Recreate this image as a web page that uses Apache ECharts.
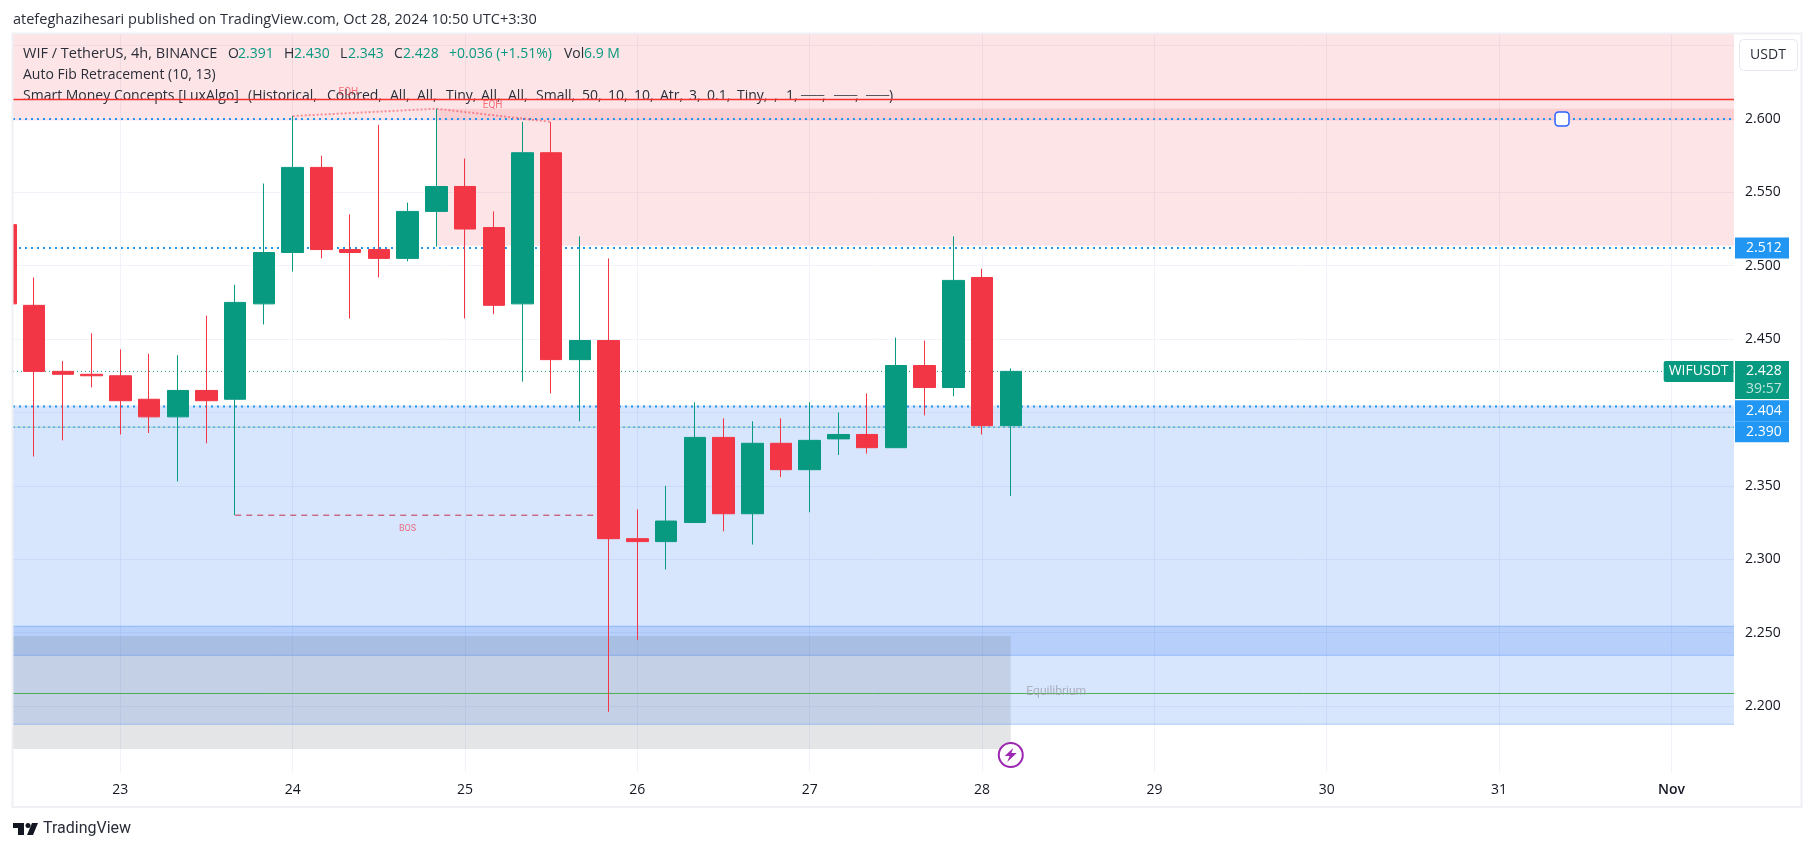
<!DOCTYPE html>
<html>
<head>
<meta charset="utf-8">
<title>WIF / TetherUS, 4h</title>
<script src="https://cdn.jsdelivr.net/npm/echarts@6/dist/echarts.min.js"></script>
<style>
html, body { margin: 0; padding: 0; background: #fff; }
#chart { width: 1814px; height: 851px; }
</style>
</head>
<body>
<div id="chart"></div>
<script>
// 4h candles
var candleTimes = [
    '10-22T08', '10-22T12', '10-22T16', '10-22T20',
    '10-23T00', '10-23T04', '10-23T08', '10-23T12', '10-23T16', '10-23T20',
    '10-24T00', '10-24T04', '10-24T08', '10-24T12', '10-24T16', '10-24T20',
    '10-25T00', '10-25T04', '10-25T08', '10-25T12', '10-25T16', '10-25T20',
    '10-26T00', '10-26T04', '10-26T08', '10-26T12', '10-26T16', '10-26T20',
    '10-27T00', '10-27T04', '10-27T08', '10-27T12', '10-27T16', '10-27T20',
    '10-28T00', '10-28T04'
];
var candleOpen = [
    2.528, 2.473, 2.428, 2.426,
    2.425, 2.409, 2.397, 2.415, 2.409, 2.474,
    2.509, 2.567, 2.511, 2.511, 2.505, 2.537,
    2.554, 2.526, 2.474, 2.577, 2.436, 2.449,
    2.314, 2.312, 2.325, 2.383, 2.331, 2.379,
    2.361, 2.382, 2.385, 2.376, 2.432, 2.417,
    2.492, 2.391
];
var candleClose = [
    2.474, 2.428, 2.426, 2.425,
    2.408, 2.397, 2.415, 2.408, 2.475, 2.509,
    2.567, 2.511, 2.509, 2.505, 2.537, 2.554,
    2.525, 2.473, 2.577, 2.436, 2.449, 2.314,
    2.312, 2.326, 2.383, 2.331, 2.379, 2.361,
    2.381, 2.385, 2.376, 2.432, 2.417, 2.490,
    2.391, 2.428
];
var candleLow = [
    2.46, 2.370, 2.381, 2.417,
    2.385, 2.386, 2.353, 2.379, 2.330, 2.460,
    2.496, 2.505, 2.464, 2.492, 2.503, 2.513,
    2.464, 2.467, 2.421, 2.413, 2.394, 2.196,
    2.245, 2.293, 2.325, 2.319, 2.310, 2.356,
    2.332, 2.371, 2.372, 2.376, 2.398, 2.411,
    2.385, 2.343
];
var candleHigh = [
    2.545, 2.492, 2.435, 2.454,
    2.443, 2.440, 2.439, 2.466, 2.487, 2.556,
    2.602, 2.575, 2.535, 2.596, 2.543, 2.607,
    2.573, 2.537, 2.598, 2.598, 2.520, 2.505,
    2.334, 2.350, 2.407, 2.396, 2.394, 2.396,
    2.407, 2.400, 2.413, 2.451, 2.449, 2.520,
    2.498, 2.430
];

// axes
var priceTicks = [2.2, 2.25, 2.3, 2.35, 2.4, 2.45, 2.5, 2.55, 2.6, 2.65];
var priceLabels = ['2.200', '2.250', '2.300', '2.350', '2.400', '2.450', '2.500', '2.550', '2.600', ''];
var dayTicks = ['10-23T00', '10-24T00', '10-25T00', '10-26T00', '10-27T00', '10-28T00', '10-29T00', '10-30T00', '10-31T00', '11-01T00'];
var dayLabels = ['23', '24', '25', '26', '27', '28', '29', '30', '31', 'Nov'];

// price tags on the right axis
var tagPrices = [2.512, 2.428, 2.4157, 2.4012, 2.3869];
var tagTexts = ['2.512', '2.428', '39:57', '2.404', '2.390'];
var tagKinds = ['blue', 'green', 'timer', 'blue', 'blue'];

// levels and zones, in prices
var fibLevels = [2.6, 2.512, 2.404];
var fibLowLevel = 2.39;
var lastPrice = 2.428;
var topLine = 2.6133;
var equilibrium = 2.2085;
var bosLine = [['10-23T16', 2.33], ['10-25T20', 2.33]];
var eqhLine = [['10-24T00', 2.602], ['10-24T20', 2.607], ['10-25T12', 2.598]];
var redZones = [
    ['10-22T09:03', '11-01T08:43', 2.6579, 2.599],
    ['10-24T20', '11-01T08:43', 2.607, 2.5136]
];
var blueZones = [
    ['10-22T09:03', '11-01T08:43', 2.4047, 2.1875],
    ['10-22T09:03', '11-01T08:43', 2.2543, 2.2345]
];
var greyZones = [
    ['10-22T09:03', '10-28T04', 2.2477, 2.1707]
];
var blueEdges = [2.2543, 2.2345, 2.1875];
var notes = [
    ['BOS', '10-24T16', 2.3207],
    ['EQH', '10-24T07:45', 2.618],
    ['EQH', '10-25T03:50', 2.6093],
    ['Equilibrium', '10-28T10:20', 2.2095]
];

var uiFont = 'Open Sans';
var green = '#089981', red = '#f7322f', blue = '#2196f3', ink = '#2a2e39';

function t(s) {
    if (s.length == 8) s += ':00';
    return Date.parse('2024-' + s + ':00Z');
}
var xMin = t('10-22T09:03'), xMax = t('11-01T08:43');
var yMin = 2.155, yMax = 2.6579;

var dayTickTimes = dayTicks.map(t);
var candles = candleTimes.map(function (s, i) {
    return [t(s), candleOpen[i], candleClose[i], candleLow[i], candleHigh[i]];
});

function level(price, color, width, dash) {
    return {
        type: 'line', z: 3, symbol: 'none', silent: true,
        lineStyle: { color: color, width: width, type: dash },
        data: [[xMin, price], [xMax, price]]
    };
}
function zoneSeries(zones, fill) {
    return {
        type: 'line', z: 1, data: [], silent: true,
        markArea: {
            silent: true,
            data: zones.map(function (z) {
                return [
                    { xAxis: t(z[0]), yAxis: z[2], itemStyle: { color: fill, borderWidth: 0 } },
                    { xAxis: t(z[1]), yAxis: z[3] }
                ];
            })
        }
    };
}
function pathLine(points, color, width, dash) {
    return {
        type: 'line', z: 3, symbol: 'none', silent: true,
        lineStyle: { color: color, width: width, type: dash },
        data: points.map(function (p) { return [t(p[0]), p[1]]; })
    };
}
function headerText(s, x, y, color, size) {
    return { type: 'text', x: x, y: y, z: 2, style: { text: s, font: (size || 14) + 'px ' + uiFont, fill: color || ink, verticalAlign: 'middle' } };
}

var seriesList = [
    zoneSeries(redZones, 'rgba(242,54,69,0.13)'),
    zoneSeries(blueZones, 'rgba(33,110,245,0.18)'),
    zoneSeries(greyZones, 'rgba(120,123,134,0.2)'),
    level(topLine, red, 1.5, 'solid'),
    level(equilibrium, '#4caf50', 1, 'solid'),
    level(fibLowLevel, 'rgba(76,175,80,0.35)', 1, 'solid'),
    level(fibLevels[0], blue, 2, [2, 4]),
    level(fibLevels[1], blue, 2, [2, 4]),
    level(fibLevels[2], blue, 2, [2, 4]),
    level(fibLowLevel, blue, 1, [2, 3]),
    level(lastPrice, green, 1, [1, 3]),
    pathLine(bosLine, '#c2304a', 1, [6, 5]),
    pathLine(eqhLine, 'rgba(242,54,69,0.5)', 2, [2, 2])
];
blueEdges.forEach(function (v) {
    seriesList.push(level(v, 'rgba(33,110,245,0.3)', 1, 'solid'));
});
seriesList.push({
    type: 'candlestick', z: 4,
    barWidth: 22,
    encode: { x: 0, y: [1, 2, 3, 4] },
    itemStyle: { color: green, color0: '#f23645', borderColor: green, borderColor0: '#f23645', borderWidth: 1 },
    data: candles
});
seriesList.push({
    // text notes, handle, last-price tag and the lightning badge
    type: 'scatter', z: 5, symbolSize: 0, silent: true,
    data: notes.map(function (n) {
        return {
            value: [t(n[1]), n[2]],
            label: {
                show: true, position: 'inside', formatter: n[0],
                fontFamily: 'Roboto',
                fontSize: n[0] == 'Equilibrium' ? 12 : (n[0] == 'EQH' ? 10 : 9),
                color: n[0] == 'Equilibrium' ? '#a0a4ae' : 'rgba(242,54,69,0.85)'
            }
        };
    }),
    markPoint: {
        silent: true,
        data: [
            {
                coord: [t('10-31T08:46'), fibLevels[0]],
                symbol: 'roundRect', symbolSize: 14,
                itemStyle: { color: '#fff', borderColor: '#2962ff', borderWidth: 1.5 },
                label: { show: false }
            },
            {
                coord: [xMax, lastPrice],
                symbol: 'circle', symbolSize: 1,
                itemStyle: { color: 'rgba(0,0,0,0)' },
                label: {
                    show: true, position: 'left', distance: 0,
                    formatter: 'WIFUSDT', backgroundColor: green, color: '#fff',
                    fontFamily: uiFont, fontSize: 14,
                    lineHeight: 15, padding: [3, 5], borderRadius: [2, 0, 0, 2]
                }
            },
            {
                coord: [t('10-28T04'), 2.1666],
                symbol: 'circle', symbolSize: 24,
                itemStyle: { color: '#fff', borderColor: '#9c27b0', borderWidth: 2 },
                label: { show: false }
            },
            {
                coord: [t('10-28T04'), 2.1666],
                symbol: 'path://M7 0 L0 8 L4 8 L2 14 L10 5 L5.5 5 Z', symbolSize: [12, 14],
                itemStyle: { color: '#9c27b0' },
                label: { show: false }
            }
        ]
    }
});

// third legend line, word by word so the gaps follow the picture
var smcWords = [
    ['Smart Money Concepts [LuxAlgo]', 23], ['(Historical,', 248], ['Colored,', 327], ['All,', 390], ['All,', 417],
    ['Tiny,', 446], ['All,', 481], ['All,', 508], ['Small,', 536], ['50,', 582], ['10,', 608], ['10,', 634],
    ['Atr,', 660], ['3,', 689], ['0.1,', 707], ['Tiny,', 737], [',', 774], ['1,', 786], [',', 822], [',', 855], [')', 889]
];
var smcDashes = [801, 834, 866];

var graphics = [
    // hides the part of the first candle that falls left of the plot
    { type: 'rect', z: 9, shape: { x: 0, y: 33, width: 12, height: 775 }, style: { fill: '#fff' } },
    // chart frame
    { type: 'rect', z: 10, shape: { x: 12.5, y: 33.5, width: 1789, height: 773.5 }, style: { fill: 'none', stroke: '#eff0f4', lineWidth: 2 } },
    // page text
    { type: 'text', x: 13, y: 20, z: 20, style: { text: 'atefeghazihesari published on TradingView.com, Oct 28, 2024 10:50 UTC+3:30', font: '14.5px ' + uiFont, fill: ink, verticalAlign: 'middle' } },
    // legend lines
    headerText('WIF / TetherUS, 4h, BINANCE', 23, 54, ink, 14.5),
    headerText('O', 228, 54), headerText('2.391', 238, 54, green),
    headerText('H', 284, 54), headerText('2.430', 294, 54, green),
    headerText('L', 340, 54), headerText('2.343', 348, 54, green),
    headerText('C', 394, 54), headerText('2.428', 403, 54, green),
    headerText('+0.036 (+1.51%)', 449, 54, green),
    headerText('Vol', 564, 54), headerText('6.9 M', 584, 54, green),
    headerText('Auto Fib Retracement (10, 13)', 23, 75),
    // currency button
    { type: 'rect', z: 20, shape: { x: 1739.5, y: 39.5, width: 58, height: 31, r: 4 }, style: { fill: '#fff', stroke: '#e6e8ef', lineWidth: 1 } },
    { type: 'text', x: 1768, y: 55, z: 21, style: { text: 'USDT', font: '14px ' + uiFont, fill: ink, align: 'center', verticalAlign: 'middle' } },
    // TradingView logo
    { type: 'polygon', z: 20, shape: { points: [[13, 823], [24, 823], [24, 835], [18, 835], [18, 828], [13, 828]] }, style: { fill: '#131722' } },
    { type: 'circle', z: 20, shape: { cx: 28, cy: 825.5, r: 2.5 }, style: { fill: '#131722' } },
    { type: 'polygon', z: 20, shape: { points: [[32, 823], [38, 823], [33, 835], [27, 835]] }, style: { fill: '#131722' } },
    { type: 'text', x: 43, y: 829, z: 20, style: { text: 'TradingView', font: '16px Roboto', fill: ink, verticalAlign: 'middle' } }
];
smcWords.forEach(function (w) {
    graphics.push(headerText(w[0], w[1], 96));
});
smcDashes.forEach(function (x) {
    graphics.push(headerText('───', x, 96, ink, 11));
});

var myChart = echarts.init(document.getElementById('chart'));
myChart.setOption({
    animation: false,
    backgroundColor: '#fff',
    grid: { left: 13, right: 80, top: 34, bottom: 79 },
    xAxis: {
        type: 'value', min: xMin, max: xMax,
        axisLine: { show: false },
        axisTick: { show: false, customValues: dayTickTimes },
        splitLine: { show: true, lineStyle: { color: '#f0f3fa', width: 1 } },
        axisLabel: {
            customValues: dayTickTimes,
            margin: 11,
            fontFamily: uiFont, fontSize: 14, color: '#131722',
            formatter: function (v) {
                var s = dayLabels[dayTickTimes.indexOf(v)];
                return s == 'Nov' ? '{b|Nov}' : s;
            },
            rich: { b: { fontFamily: uiFont, fontSize: 14, fontWeight: 600, color: '#131722' } }
        }
    },
    yAxis: [{
        type: 'value', position: 'right', min: yMin, max: yMax,
        axisLine: { show: false },
        axisTick: { show: false, customValues: priceTicks },
        splitLine: { show: true, lineStyle: { color: '#f0f3fa', width: 1 } },
        axisLabel: {
            customValues: priceTicks,
            margin: 11,
            fontFamily: uiFont, fontSize: 14, color: '#131722',
            formatter: function (v) { return priceLabels[priceTicks.indexOf(v)]; }
        }
    }, {
        type: 'value', position: 'right', min: yMin, max: yMax,
        axisLine: { show: false },
        axisTick: { show: false },
        splitLine: { show: false },
        axisLabel: {
            customValues: tagPrices,
            margin: 1,
            formatter: function (v) {
                var i = tagPrices.indexOf(v);
                return '{' + tagKinds[i] + '|' + tagTexts[i] + '}';
            },
            rich: {
                blue: { backgroundColor: blue, color: '#fff', fontFamily: uiFont, fontSize: 14, width: 43, height: 21, padding: [0, 0, 0, 11], lineHeight: 21 },
                green: { backgroundColor: green, color: '#fff', fontFamily: uiFont, fontSize: 14, width: 43, height: 21, padding: [0, 0, 0, 11], lineHeight: 21 },
                timer: { backgroundColor: green, color: '#bfe6dc', fontFamily: uiFont, fontSize: 14, width: 43, height: 19, padding: [0, 0, 0, 11], lineHeight: 19 }
            }
        }
    }],
    series: seriesList,
    graphic: graphics
});
</script>
</body>
</html>
